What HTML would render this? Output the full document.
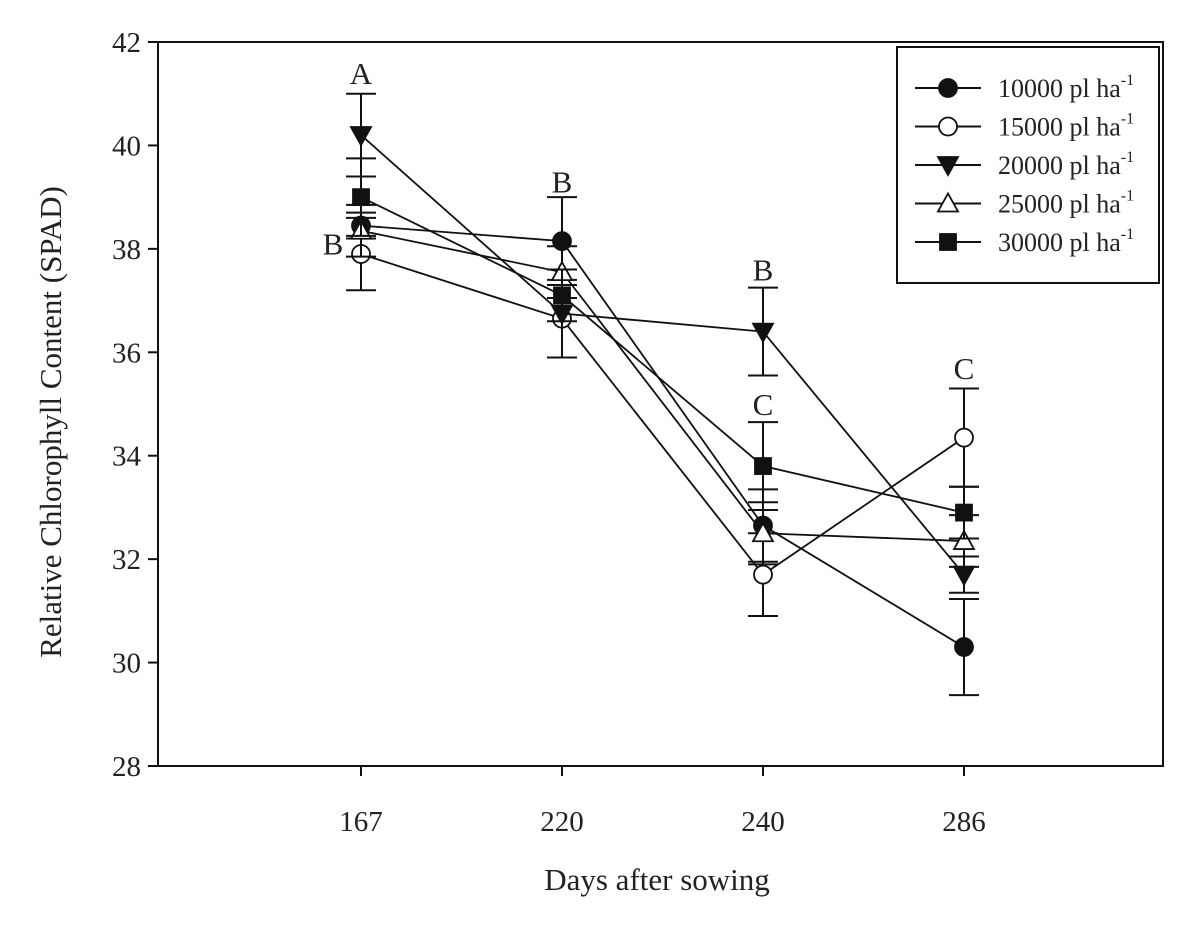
<!DOCTYPE html>
<html><head><meta charset="utf-8"><style>
body{margin:0;background:#fff}
svg{display:block;font-family:"Liberation Serif",serif}
</style></head><body>
<svg id="chart" width="1196" height="929" viewBox="0 0 1196 929" xmlns="http://www.w3.org/2000/svg">
<rect x="158" y="42" width="1005" height="724" fill="none" stroke="#111" stroke-width="2"/>
<g id="axes"></g><g id="series"></g><g id="letters"></g>
<text x="657" y="890" font-size="31" text-anchor="middle" fill="#222">Days after sowing</text>
<text transform="translate(61,422) rotate(-90)" font-size="31" text-anchor="middle" fill="#222">Relative Chlorophyll Content (SPAD)</text>
<g>
<rect x="897" y="47" width="262" height="236" fill="#fff" stroke="#111" stroke-width="2"/>
<g id="legend"></g></g>
</svg>
<script>
const categories=["167","220","240","286"];
const seriesNames=["10000","15000","20000","25000","30000"];
const markers=["circle-filled","circle-open","tri-down","tri-up","square"];
const s10000=[38.45,38.15,32.65,30.3];
const s15000=[37.9,36.65,31.7,34.35];
const s20000=[40.2,36.75,36.4,31.7];
const s25000=[38.35,37.55,32.5,32.35];
const s30000=[39.0,37.1,33.8,32.9];
const e10000=[0.25,0.85,0.7,0.93];
const e15000=[0.7,0.75,0.8,0.95];
const e20000=[0.8,0.85,0.85,0.35];
const e25000=[0.5,0.5,0.6,0.5];
const e30000=[0.75,0.5,0.85,0.5];
const yTicks=[28,30,32,34,36,38,40,42];
const letterText=["A","B","B","B","C","C"];
const letterCat=[0,0,1,2,2,3];
const letterVal=[41.4,38.1,39.3,37.6,35.0,35.7];
const letterDx=[0,-28,0,0,0,0];

const values=[s10000,s15000,s20000,s25000,s30000];
const errs=[e10000,e15000,e20000,e25000,e30000];
const NS="http://www.w3.org/2000/svg";
const X=i=>158+201*(i+1)+2;
const Y=v=>766-(v-28)*(724/14);
function mk(tag,attrs,parent){const e=document.createElementNS(NS,tag);for(const k in attrs)e.setAttribute(k,attrs[k]);parent.appendChild(e);return e;}
const axes=document.getElementById('axes');
yTicks.forEach(t=>{
  const l=mk('line',{x1:148,x2:158,y1:Y(t),y2:Y(t),stroke:'#111','stroke-width':2},axes);
  
  
  const tx=mk('text',{x:141,y:Y(t)+10,'font-size':29,'text-anchor':'end',fill:'#222'},axes);
  tx.textContent=t;
  
  
});
categories.forEach((c,i)=>{
  const l=mk('line',{x1:X(i),x2:X(i),y1:766,y2:776,stroke:'#111','stroke-width':2},axes);
  
  
  const tx=mk('text',{x:X(i),y:831,'font-size':29,'text-anchor':'middle',fill:'#222'},axes);
  tx.textContent=c;
  
  
});
function marker(type,x,y,g){
  const st={stroke:'#111','stroke-width':1.8};
  let e;
  if(type==='circle-filled')e=mk('circle',Object.assign({cx:x,cy:y,r:9,fill:'#111'},st),g);
  else if(type==='circle-open')e=mk('circle',Object.assign({cx:x,cy:y,r:9,fill:'#fff'},st),g);
  else if(type==='tri-down')e=mk('polygon',Object.assign({points:`${x-10},${y-8} ${x+10},${y-8} ${x},${y+10}`,fill:'#111'},st),g);
  else if(type==='tri-up')e=mk('polygon',Object.assign({points:`${x-10},${y+8} ${x+10},${y+8} ${x},${y-10}`,fill:'#fff'},st),g);
  else e=mk('rect',Object.assign({x:x-8,y:y-8,width:16,height:16,fill:'#111'},st),g);
  return e;
}
const sg=document.getElementById('series');
values.forEach((vals,si)=>{
  const g=mk('g',{},sg);
  
  
  vals.forEach((v,i)=>{
    const x=X(i),e=errs[si][i];
    const eb=mk('path',{d:`M${x},${Y(v-e)}V${Y(v+e)}M${x-15},${Y(v-e)}H${x+15}M${x-15},${Y(v+e)}H${x+15}`,stroke:'#111','stroke-width':2,fill:'none'},g);
    
    
  });
  const ln=mk('polyline',{points:vals.map((v,i)=>X(i)+','+Y(v)).join(' '),fill:'none',stroke:'#111','stroke-width':1.8},g);
  
  
  vals.forEach((v,i)=>{
    const m=marker(markers[si],X(i),Y(v),g);
    
    
  });
});
const lg=document.getElementById('letters');
letterText.forEach((t,k)=>{
  const tx=mk('text',{x:X(letterCat[k])+letterDx[k],y:Y(letterVal[k])+11,'font-size':31,'text-anchor':'middle',fill:'#222'},lg);
  tx.textContent=t;
  
  
});
const leg=document.getElementById('legend');
seriesNames.forEach((n,si)=>{
  const y=88+38.5*si;
  const g=mk('g',{},leg);
  
  
  mk('line',{x1:915,x2:981,y1:y,y2:y,stroke:'#111','stroke-width':2},g);
  marker(markers[si],948,y,g);
  const tx=mk('text',{x:998,y:y+9,'font-size':26,fill:'#222'},g);
  tx.innerHTML=n+' pl ha<tspan font-size="16" dy="-12">-1</tspan>';
});
</script>
</body></html>
